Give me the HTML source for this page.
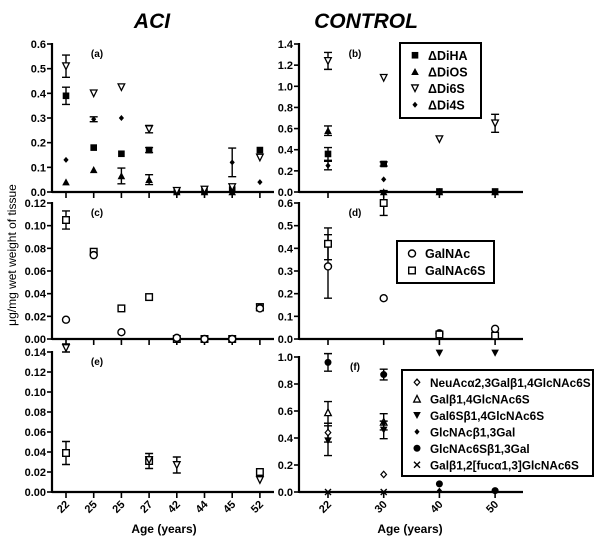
<!DOCTYPE html>
<html><head><meta charset="utf-8">
<style>
html,body{margin:0;padding:0;background:#fff;}
svg{display:block;font-family:"Liberation Sans",Arial,sans-serif;}
</style></head>
<body>
<svg id="chart" width="600" height="543" viewBox="0 0 600 543" xmlns="http://www.w3.org/2000/svg">
<text x="152" y="28" font-size="21" font-weight="bold" font-style="italic" text-anchor="middle">ACI</text>
<text x="366" y="28" font-size="21" font-weight="bold" font-style="italic" text-anchor="middle">CONTROL</text>
<text transform="translate(16,255) rotate(-90)" font-size="12" text-anchor="middle">μg/mg wet weight of tissue</text>
<text x="164" y="533" font-size="12" font-weight="bold" text-anchor="middle">Age (years)</text>
<text x="410" y="533" font-size="12" font-weight="bold" text-anchor="middle">Age (years)</text>
</svg>
<script>
// categories
const aciAges = ["22","25","25","27","42","44","45","52"];
const ctlAges = ["22","30","40","50"];
// panel a (ACI disaccharides)
const aDiHA = [0.39,0.18,0.155,0.17,0.005,0.005,0.01,0.17];
const aDiHAErr = [0.035,0,0,0.01,0,0,0,0];
const aDiOS = [0.04,0.09,0.065,0.05,0,0,0,null];
const aDiOSErr = [0,0,0.032,0.02,0,0,0,0];
const aDi6S = [0.51,0.40,0.425,0.255,0.005,0.01,0.02,0.14];
const aDi6SErr = [0.045,0,0,0.015,0,0,0,0];
const aDi4S = [0.13,0.295,0.30,null,0,0,0.12,0.04];
const aDi4SErr = [0,0.01,0,0,0,0,0.058,0];
// panel b (control disaccharides)
const bDiHA = [0.36,0.265,0.005,0.005];
const bDiHAErr = [0.06,0.02,0,0];
const bDiOS = [0.58,0,0,0];
const bDiOSErr = [0.045,0,0,0];
const bDi6S = [1.24,1.08,0.50,0.65];
const bDi6SErr = [0.08,0,0,0.085];
const bDi4S = [0.25,0.12,0.01,0];
const bDi4SErr = [0.04,0,0,0];
// panel c (ACI monosaccharides)
const cGalNAc = [0.017,0.074,0.006,null,0.001,0,0,0.027];
const cGalNAc6S = [0.105,0.077,0.027,0.037,0,0,0,0.028];
const cGalNAc6SErr = [0.008,0,0,0,0,0,0,0.003];
// panel d (control monosaccharides)
const dGalNAc = [0.32,0.18,0.025,0.045];
const dGalNAcErr = [0.14,0,0,0];
const dGalNAc6S = [0.42,0.60,0.02,0.015];
const dGalNAc6SErr = [0.07,0.055,0,0];
// panel e (ACI oligosaccharides)
const eSquare = [0.039,null,null,0.031,null,null,null,0.02];
const eSquareErr = [0.0115,0,0,0.0075,0,0,0,0];
const eTriDown = [0.144,null,null,0.032,0.027,null,null,0.012];
const eTriDownErr = [0.004,0,0,0,0.008,0,0,0];
// panel f (control oligosaccharides)
const fNeuAc = [0.44,0.13,null,null];
const fGalb14 = [0.59,0.52,null,null];
const fGalb14Err = [0.08,0.06,0,0];
const fGal6S = [0.38,0.46,1.03,1.03];
const fGal6SErr = [0.11,0.065,0,0];
const fGlcNAcb13 = [0.44,0.51,0.01,0.01];
const fGlcNAcb13Err = [0.07,0,0,0];
const fGlcNAc6S = [0.96,0.87,0.06,0.01];
const fGlcNAc6SErr = [0.065,0.04,0,0];
const fFuc = [0,0,null,null];
// tick labels
const ticksA = ["0.0","0.1","0.2","0.3","0.4","0.5","0.6"];
const ticksB = ["0.0","0.2","0.4","0.6","0.8","1.0","1.2","1.4"];
const ticksC = ["0.00","0.02","0.04","0.06","0.08","0.10","0.12"];
const ticksD = ["0.0","0.1","0.2","0.3","0.4","0.5","0.6"];
const ticksE = ["0.00","0.02","0.04","0.06","0.08","0.10","0.12","0.14"];
const ticksF = ["0.0","0.2","0.4","0.6","0.8","1.0"];

const NS="http://www.w3.org/2000/svg";
const svg=document.getElementById('chart');
function mk(tag,attrs,parent){const e=document.createElementNS(NS,tag);for(const k in attrs)e.setAttribute(k,attrs[k]);(parent||svg).appendChild(e);return e;}

function marker(g,type,x,y){
  const s=3.3;let e;
  if(type==='sqF'){e=mk('rect',{x:x-s,y:y-s,width:2*s,height:2*s,fill:'#000'},g);}
  else if(type==='sqO'){e=mk('rect',{x:x-s,y:y-s,width:2*s,height:2*s,fill:'#fff',stroke:'#000','stroke-width':1.4},g);}
  else if(type==='triF'){e=mk('polygon',{points:`${x},${y-s-0.5} ${x+s+0.5},${y+s} ${x-s-0.5},${y+s}`,fill:'#000'},g);}
  else if(type==='triO'){e=mk('polygon',{points:`${x},${y-s} ${x+s},${y+s} ${x-s},${y+s}`,fill:'#fff',stroke:'#000','stroke-width':1.3},g);}
  else if(type==='tdF'){e=mk('polygon',{points:`${x},${y+s+0.5} ${x+s+0.5},${y-s} ${x-s-0.5},${y-s}`,fill:'#000'},g);}
  else if(type==='tdO'){e=mk('polygon',{points:`${x},${y+s} ${x+s},${y-s} ${x-s},${y-s}`,fill:'#fff',stroke:'#000','stroke-width':1.3},g);}
  else if(type==='diF'){e=mk('polygon',{points:`${x},${y-3} ${x+2.6},${y} ${x},${y+3} ${x-2.6},${y}`,fill:'#000'},g);}
  else if(type==='diO'){e=mk('polygon',{points:`${x},${y-3.2} ${x+2.8},${y} ${x},${y+3.2} ${x-2.8},${y}`,fill:'#fff',stroke:'#000','stroke-width':1.2},g);}
  else if(type==='ciF'){e=mk('circle',{cx:x,cy:y,r:3.5,fill:'#000'},g);}
  else if(type==='ciO'){e=mk('circle',{cx:x,cy:y,r:3.5,fill:'#fff',stroke:'#000','stroke-width':1.4},g);}
  else if(type==='x'){e=mk('path',{d:`M${x-3},${y-3}L${x+3},${y+3}M${x+3},${y-3}L${x-3},${y+3}`,stroke:'#000','stroke-width':1.4},g);}
  return e;
}

function panel(cfg){
  const g=mk('g',{});
  
  
  const yS=v=>cfg.y0+(cfg.yTop-cfg.y0)*v/cfg.max;
  const xS=i=>cfg.xFirst+i*cfg.step;
  cfg.ticks.forEach((t,i)=>{
    const v=cfg.max*i/(cfg.ticks.length-1);const y=yS(v);
    const tk=mk('line',{x1:cfg.ax-5,x2:cfg.ax,y1:y,y2:y,stroke:'#000','stroke-width':1.6},g);
    
    
    const tl=mk('text',{x:cfg.ax-6,y:y+4,'font-size':11,'font-weight':'bold','text-anchor':'end'},g);
    
    
    tl.textContent=t;
  });
  cfg.cats.forEach((c,i)=>{
    const x=xS(i);
    const tk=mk('line',{x1:x,x2:x,y1:cfg.y0,y2:cfg.y0+6,stroke:'#000','stroke-width':1.6},g);
    
    
    if(cfg.labels){
      const tl=mk('text',{transform:`translate(${x+4},${cfg.y0+13}) rotate(-45)`,'font-size':11,'font-weight':'bold','text-anchor':'end'},g);
      
      
      tl.textContent=c;
    }
  });
  const ya=mk('line',{x1:cfg.ax,x2:cfg.ax,y1:cfg.yTop-1,y2:cfg.y0+1,stroke:'#000','stroke-width':2.2},g);
  
  
  const xa=mk('line',{x1:cfg.ax,x2:cfg.xEnd,y1:cfg.y0,y2:cfg.y0,stroke:'#000','stroke-width':2.2},g);
  
  
  const lb=mk('text',{x:cfg.labelX,y:cfg.yTop+13,'font-size':10,'font-weight':'bold','text-anchor':'middle'},g);
  
  
  lb.textContent=cfg.label;
  cfg.series.forEach(s=>{
    s.vals.forEach((v,i)=>{
      if(v===null)return;
      const x=xS(i),y=yS(v);
      const e=s.err?s.err[i]:0;
      if(e){
        const p=mk('path',{d:`M${x},${yS(v+e)}V${yS(v-e)}M${x-4},${yS(v+e)}H${x+4}M${x-4},${yS(v-e)}H${x+4}`,stroke:'#000','stroke-width':1.4,fill:'none'},g);
        
        
      }
      const m=marker(g,s.type,x,y);
      
      
    });
  });
}

const L={ax:52,xFirst:66,step:27.7,xEnd:274,labelX:97};
const R={ax:299,xFirst:328,step:55.7,xEnd:523,labelX:355};
panel(Object.assign({name:'panel-a',label:'(a)',cats:aciAges,ticks:ticksA,max:0.6,y0:192,yTop:44,labels:false,series:[
 {name:'di4s',type:'diF',vals:aDi4S,err:aDi4SErr},
 {name:'dios',type:'triF',vals:aDiOS,err:aDiOSErr},
 {name:'diha',type:'sqF',vals:aDiHA,err:aDiHAErr},
 {name:'di6s',type:'tdO',vals:aDi6S,err:aDi6SErr}]},L));
panel(Object.assign({name:'panel-b',label:'(b)',cats:ctlAges,ticks:ticksB,max:1.4,y0:192,yTop:44,labels:false,series:[
 {name:'di4s',type:'diF',vals:bDi4S,err:bDi4SErr},
 {name:'dios',type:'triF',vals:bDiOS,err:bDiOSErr},
 {name:'diha',type:'sqF',vals:bDiHA,err:bDiHAErr},
 {name:'di6s',type:'tdO',vals:bDi6S,err:bDi6SErr}]},R));
panel(Object.assign({name:'panel-c',label:'(c)',cats:aciAges,ticks:ticksC,max:0.12,y0:339,yTop:203,labels:false,series:[
 {name:'galnac6s',type:'sqO',vals:cGalNAc6S,err:cGalNAc6SErr},
 {name:'galnac',type:'ciO',vals:cGalNAc}]},L));
panel(Object.assign({name:'panel-d',label:'(d)',cats:ctlAges,ticks:ticksD,max:0.6,y0:339,yTop:203,labels:false,series:[
 {name:'galnac',type:'ciO',vals:dGalNAc,err:dGalNAcErr},
 {name:'galnac6s',type:'sqO',vals:dGalNAc6S,err:dGalNAc6SErr}]},R));
panel(Object.assign({name:'panel-e',label:'(e)',cats:aciAges,ticks:ticksE,max:0.14,y0:492,yTop:352,labels:true,series:[
 {name:'square',type:'sqO',vals:eSquare,err:eSquareErr},
 {name:'tri-down',type:'tdO',vals:eTriDown,err:eTriDownErr}]},L));
panel(Object.assign({name:'panel-f',label:'(f)',cats:ctlAges,ticks:ticksF,max:1.0,y0:492,yTop:357,labels:true,series:[
 {name:'galb14',type:'triO',vals:fGalb14,err:fGalb14Err},
 {name:'gal6s',type:'tdF',vals:fGal6S,err:fGal6SErr},
 {name:'glcnacb13',type:'diF',vals:fGlcNAcb13,err:fGlcNAcb13Err},
 {name:'neuac',type:'diO',vals:fNeuAc},
 {name:'glcnac6s',type:'ciF',vals:fGlcNAc6S,err:fGlcNAc6SErr},
 {name:'fuc',type:'x',vals:fFuc}]},R));

function legend(name,x,y,w,h,items,rowH,fs){
  const g=mk('g',{});
  
  
  mk('rect',{x:x,y:y,width:w,height:h,fill:'#fff',stroke:'#000','stroke-width':2},g);
  items.forEach((it,i)=>{
    const cy=y+rowH*0.5+4+i*rowH;
    const m=marker(g,it[0],x+15,cy);
    
    
    const t=mk('text',{x:x+28,y:cy+4.5,'font-size':fs,'font-weight':'bold'},g);
    
    
    t.textContent=it[1];
  });
}
legend('legend-disaccharides',400,43,81,75,[['sqF','ΔDiHA'],['triF','ΔDiOS'],['tdO','ΔDi6S'],['diF','ΔDi4S']],16.5,12.5);
legend('legend-monosaccharides',397,241,97,42,[['ciO','GalNAc'],['sqO','GalNAc6S']],17,12.5);
legend('legend-oligosaccharides',402,370,191,106,[['diO','NeuAcα2,3Galβ1,4GlcNAc6S'],['triO','Galβ1,4GlcNAc6S'],['tdF','Gal6Sβ1,4GlcNAc6S'],['diF','GlcNAcβ1,3Gal'],['ciF','GlcNAc6Sβ1,3Gal'],['x','Galβ1,2[fucα1,3]GlcNAc6S']],16.5,11.8);
</script>
</body></html>
